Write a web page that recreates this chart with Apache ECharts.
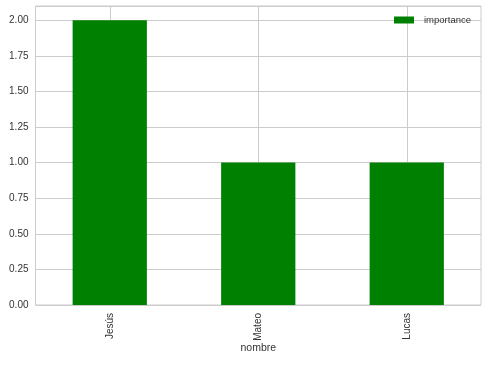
<!DOCTYPE html>
<html><head><meta charset="utf-8">
<script src="https://cdn.jsdelivr.net/npm/echarts@6/dist/echarts.min.js"></script>
<style>html,body{margin:0;padding:0;background:#fff}#c{width:496px;height:368px}</style>
</head><body><div id="c"></div>
<script>
const categories = ['Jesús', 'Mateo', 'Lucas'];
const importance = [2, 1, 1];
const yTicks = [0, 0.25, 0.5, 0.75, 1.0, 1.25, 1.5, 1.75, 2.0];

const chart = echarts.init(document.getElementById('c'), null, {renderer: 'canvas'});
const font = 'Liberation Sans, Arial, sans-serif';
chart.setOption({
  animation: false,
  backgroundColor: '#fff',
  textStyle: {fontFamily: font},
  grid: {left: 35.5, right: 15, top: 6, bottom: 63, containLabel: false,
         show: true, borderColor: '#cccccc', borderWidth: 1},
  legend: {
    top: 10, right: 20, itemWidth: 20, itemHeight: 7, itemGap: 8,
    textStyle: {fontSize: 9.5, color: '#333', fontFamily: font, padding: [0, 0, 0, 5]},
    data: [{name: 'importance', icon: 'rect'}]
  },
  xAxis: {
    type: 'category', data: categories,
    name: 'nombre', nameLocation: 'middle', nameGap: 38, nameMoveOverlap: false,
    nameTextStyle: {fontSize: 10.5, color: '#333', fontFamily: font},
    axisLine: {show: false}, axisTick: {show: false},
    axisLabel: {rotate: 90, fontSize: 10, color: '#333', margin: 8, fontFamily: font},
    splitLine: {show: true, alignWithLabel: true, lineStyle: {color: '#cccccc', width: 1}}
  },
  yAxis: {
    type: 'value', min: 0, max: 2.1, interval: 0.25,
    axisLine: {show: false}, axisTick: {show: false},
    axisLabel: {fontSize: 10, color: '#333', margin: 7, fontFamily: font,
      formatter: v => (yTicks.some(t => Math.abs(t - v) < 1e-9) ? v.toFixed(2) : '')},
    splitLine: {lineStyle: {color: '#cccccc', width: 1}}
  },
  series: [{
    name: 'importance', type: 'bar', data: importance,
    barWidth: '50%', itemStyle: {color: '#008000'}
  }]
});
</script></body></html>
